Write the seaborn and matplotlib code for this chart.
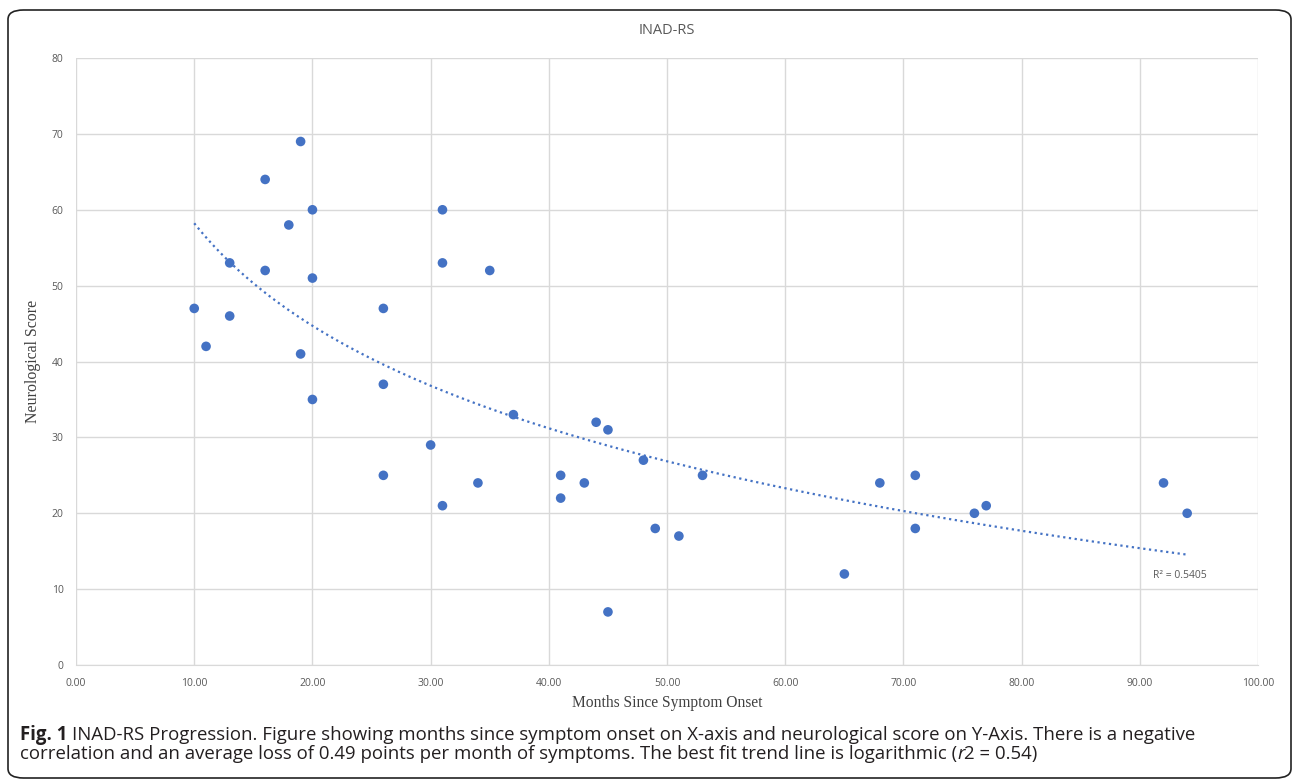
import numpy as np
import pandas as pd
import matplotlib
matplotlib.use("Agg")
import matplotlib.pyplot as plt
import seaborn as sns
from matplotlib.patches import FancyBboxPatch
from matplotlib.transforms import offset_copy

months = [10, 11, 13, 13, 16, 16, 18, 19, 19, 20, 20, 20, 26, 26, 26, 30, 31, 31, 31, 34,
          35, 37, 41, 41, 43, 44, 45, 45, 48, 49, 51, 53, 65, 68, 71, 71, 76, 77, 92, 94]
scores = [47, 42, 53, 46, 64, 52, 58, 69, 41, 60, 51, 35, 47, 37, 25, 29, 60, 53, 21, 24,
          52, 33, 25, 22, 24, 32, 31, 7, 27, 18, 17, 25, 12, 24, 25, 18, 20, 21, 24, 20]
x_ticks = list(range(0, 101, 10))
y_ticks = list(range(0, 81, 10))

df = pd.DataFrame({"Months": months, "Score": scores})

# logarithmic trend line fitted to the points
b, a = np.polyfit(np.log(df["Months"]), df["Score"], 1)
xs = np.linspace(df["Months"].min(), df["Months"].max(), 200)
trend = pd.DataFrame({"Months": xs, "Score": a + b * np.log(xs)})

sns.set_style("white")
blue = "#4472C4"

fig = plt.figure(figsize=(12.93, 7.8), dpi=100)
ax = fig.add_axes([0.0588, 0.1474, 0.9142, 0.7782])

sns.lineplot(data=trend, x="Months", y="Score", ax=ax, color=blue, linestyle=(0, (1, 1.6)), linewidth=1.6)
sns.scatterplot(data=df, x="Months", y="Score", ax=ax, color=blue, s=48, edgecolor="none", zorder=3)

ax.set_xlim(0, 100)
ax.set_ylim(0, 80)
ax.set_xticks(x_ticks)
ax.set_xticklabels([f"{t:.2f}" for t in x_ticks])
ax.set_yticks(y_ticks)
ax.grid(True, color="#d9d9d9", linewidth=1)
ax.set_axisbelow(True)
for s in ["top", "right", "left"]:
    ax.spines[s].set_visible(False)
ax.spines["bottom"].set_color("#d9d9d9")
ax.tick_params(axis="both", length=0, labelsize=7.5, colors="#595959", pad=9)
for lab in ax.get_xticklabels() + ax.get_yticklabels():
    lab.set_family("Open Sans")

ax.set_title("INAD-RS", fontsize=10.5, color="#595959", family="Open Sans", pad=17)
ax.set_xlabel("Months Since Symptom Onset", family="Liberation Serif", fontsize=11.2, color="#404040", labelpad=5)
ax.set_ylabel("Neurological Score", family="Liberation Serif", fontsize=11.4, color="#404040", labelpad=8)

ax.text(91.1, 11.5, "R² = 0.5405", fontsize=7.5, color="#595959", family="Open Sans")

# caption, pieces placed one after another
cap = dict(fontsize=13.4, family="Open Sans", color="#231f20", va="baseline")
fig.canvas.draw()
renderer = fig.canvas.get_renderer()


def put(x_px, y_frac, text, **kw):
    t = fig.text(x_px / 1293, y_frac, text, **{**cap, **kw})
    return x_px + t.get_window_extent(renderer).width


x = put(20, 0.0513, "Fig. 1", weight="bold")
put(x + 5, 0.0513, "INAD-RS Progression. Figure showing months since symptom onset on X-axis and neurological score on Y-Axis. There is a negative")
x = put(20, 0.0269, "correlation and an average loss of 0.49 points per month of symptoms. The best fit trend line is logarithmic (")
x = put(x, 0.0269, "r", style="italic")
put(x, 0.0269, "2 = 0.54)")

border = FancyBboxPatch((8 / 1293, 2 / 780), 1283 / 1293, 768 / 780, boxstyle="round,pad=0,rounding_size=0.012",
                        transform=fig.transFigure, fill=False, edgecolor="#222222", linewidth=1.2)
fig.patches.append(border)

fig.savefig("out.png", dpi=100)
